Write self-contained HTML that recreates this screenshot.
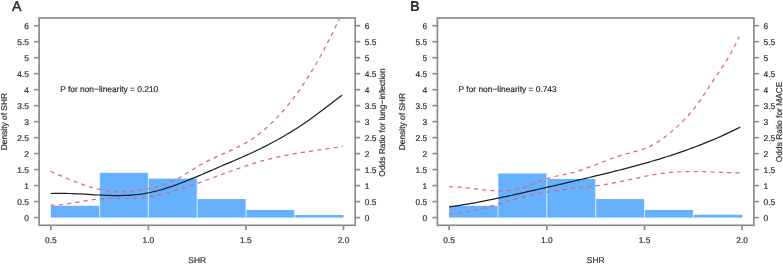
<!DOCTYPE html>
<html><head><meta charset="utf-8"><style>
html,body{margin:0;padding:0;background:#fff;}
body{width:783px;height:265px;overflow:hidden;font-family:"Liberation Sans", sans-serif;}
svg{display:block;will-change:transform;}
svg text{font-family:"Liberation Sans", sans-serif;text-rendering:geometricPrecision;}
</style></head><body>
<svg width="783" height="265" viewBox="0 0 783 265">
<rect width="783" height="265" fill="#fff"/>
<g><rect x="50.81" y="205.79" width="48.78" height="11.84" fill="#65b1fd"/><rect x="99.59" y="172.84" width="48.78" height="44.79" fill="#65b1fd"/><rect x="148.37" y="178.59" width="48.78" height="39.03" fill="#65b1fd"/><rect x="197.15" y="199.07" width="48.78" height="18.55" fill="#65b1fd"/><rect x="245.93" y="209.94" width="48.78" height="7.68" fill="#65b1fd"/><rect x="294.71" y="215.06" width="48.78" height="2.56" fill="#65b1fd"/><line x1="99.59" y1="217.62" x2="99.59" y2="172.84" stroke="#eef6ff" stroke-width="0.8"/><line x1="148.37" y1="217.62" x2="148.37" y2="172.84" stroke="#eef6ff" stroke-width="0.8"/><line x1="197.15" y1="217.62" x2="197.15" y2="178.59" stroke="#eef6ff" stroke-width="0.8"/><line x1="245.93" y1="217.62" x2="245.93" y2="199.07" stroke="#eef6ff" stroke-width="0.8"/><line x1="294.71" y1="217.62" x2="294.71" y2="209.94" stroke="#eef6ff" stroke-width="0.8"/><clipPath id="clipA"><rect x="39.10" y="18.00" width="316.10" height="207.30"/></clipPath><path d="M50.60,171.29 L54.28,172.91 L57.96,174.52 L61.65,176.11 L65.33,177.68 L69.01,179.22 L72.69,180.71 L76.38,182.15 L80.06,183.52 L83.74,184.83 L87.42,186.05 L91.11,187.18 L94.79,188.21 L98.47,189.13 L102.15,189.93 L105.83,190.61 L109.52,191.14 L113.20,191.53 L116.88,191.76 L120.56,191.82 L124.25,191.72 L127.93,191.47 L131.61,191.12 L135.29,190.68 L138.97,190.20 L142.66,189.68 L146.34,189.13 L150.02,188.51 L153.70,187.79 L157.39,186.94 L161.07,185.93 L164.75,184.73 L168.43,183.31 L172.12,181.65 L175.80,179.76 L179.48,177.68 L183.16,175.47 L186.84,173.18 L190.53,170.85 L194.21,168.54 L197.89,166.31 L201.57,164.19 L205.26,162.22 L208.94,160.37 L212.62,158.62 L216.30,156.94 L219.98,155.31 L223.67,153.69 L227.35,152.07 L231.03,150.41 L234.71,148.69 L238.40,146.88 L242.08,144.96 L245.76,142.89 L249.44,140.66 L253.13,138.24 L256.81,135.61 L260.49,132.79 L264.17,129.76 L267.85,126.52 L271.54,123.08 L275.22,119.43 L278.90,115.57 L282.58,111.49 L286.27,107.20 L289.95,102.68 L293.63,97.94 L297.31,92.97 L300.99,87.76 L304.68,82.32 L308.36,76.63 L312.04,70.70 L315.72,64.51 L319.41,58.07 L323.09,51.37 L326.77,44.40 L330.45,37.17 L334.14,29.66 L337.82,21.88 L341.50,13.81" fill="none" stroke="#de6284" stroke-width="1.25" stroke-dasharray="4.15 4.15" clip-path="url(#clipA)"/><path d="M50.60,205.13 L54.30,205.06 L58.00,204.84 L61.70,204.51 L65.41,204.07 L69.11,203.55 L72.81,202.98 L76.51,202.36 L80.21,201.73 L83.91,201.09 L87.61,200.48 L91.31,199.92 L95.02,199.42 L98.72,199.00 L102.42,198.69 L106.12,198.48 L109.82,198.37 L113.52,198.31 L117.22,198.30 L120.92,198.30 L124.63,198.30 L128.33,198.27 L132.03,198.18 L135.73,198.02 L139.43,197.76 L143.13,197.39 L146.83,196.92 L150.53,196.36 L154.24,195.71 L157.94,194.98 L161.64,194.17 L165.34,193.29 L169.04,192.33 L172.74,191.32 L176.44,190.24 L180.14,189.12 L183.85,187.95 L187.55,186.73 L191.25,185.48 L194.95,184.20 L198.65,182.89 L202.35,181.56 L206.05,180.22 L209.75,178.87 L213.46,177.50 L217.16,176.14 L220.86,174.78 L224.56,173.43 L228.26,172.08 L231.96,170.75 L235.66,169.44 L239.36,168.15 L243.07,166.88 L246.77,165.65 L250.47,164.45 L254.17,163.29 L257.87,162.17 L261.57,161.10 L265.27,160.07 L268.97,159.11 L272.68,158.19 L276.38,157.33 L280.08,156.52 L283.78,155.75 L287.48,155.03 L291.18,154.34 L294.88,153.68 L298.58,153.05 L302.29,152.45 L305.99,151.87 L309.69,151.31 L313.39,150.76 L317.09,150.22 L320.79,149.69 L324.49,149.17 L328.19,148.64 L331.90,148.11 L335.60,147.56 L339.30,147.01 L343.00,146.44" fill="none" stroke="#de6284" stroke-width="1.25" stroke-dasharray="4.15 4.15" clip-path="url(#clipA)"/><path d="M50.60,193.50 L54.29,193.38 L57.98,193.33 L61.67,193.34 L65.35,193.40 L69.04,193.50 L72.73,193.63 L76.42,193.80 L80.11,193.98 L83.80,194.18 L87.49,194.39 L91.17,194.60 L94.86,194.81 L98.55,195.00 L102.24,195.18 L105.93,195.32 L109.62,195.44 L113.31,195.51 L116.99,195.54 L120.68,195.51 L124.37,195.42 L128.06,195.26 L131.75,195.03 L135.44,194.72 L139.13,194.31 L142.82,193.81 L146.50,193.21 L150.19,192.50 L153.88,191.68 L157.57,190.76 L161.26,189.75 L164.95,188.65 L168.64,187.47 L172.32,186.22 L176.01,184.90 L179.70,183.53 L183.39,182.11 L187.08,180.64 L190.77,179.14 L194.46,177.61 L198.14,176.06 L201.83,174.49 L205.52,172.90 L209.21,171.31 L212.90,169.71 L216.59,168.11 L220.28,166.52 L223.96,164.93 L227.65,163.36 L231.34,161.80 L235.03,160.23 L238.72,158.65 L242.41,157.05 L246.10,155.42 L249.78,153.76 L253.47,152.05 L257.16,150.28 L260.85,148.47 L264.54,146.61 L268.23,144.71 L271.92,142.78 L275.61,140.81 L279.29,138.79 L282.98,136.71 L286.67,134.58 L290.36,132.37 L294.05,130.09 L297.74,127.72 L301.43,125.28 L305.11,122.76 L308.80,120.17 L312.49,117.53 L316.18,114.84 L319.87,112.10 L323.56,109.33 L327.25,106.52 L330.93,103.70 L334.62,100.86 L338.31,98.01 L342.00,95.16" fill="none" stroke="#202020" stroke-width="1.25" clip-path="url(#clipA)"/><rect x="39.10" y="18.00" width="316.10" height="207.30" fill="none" stroke="#8c8c8c" stroke-width="1.7"/><line x1="34.10" y1="217.62" x2="39.10" y2="217.62" stroke="#8c8c8c" stroke-width="1.7"/><line x1="355.20" y1="217.62" x2="360.20" y2="217.62" stroke="#8c8c8c" stroke-width="1.7"/><line x1="34.10" y1="201.63" x2="39.10" y2="201.63" stroke="#8c8c8c" stroke-width="1.7"/><line x1="355.20" y1="201.63" x2="360.20" y2="201.63" stroke="#8c8c8c" stroke-width="1.7"/><line x1="34.10" y1="185.63" x2="39.10" y2="185.63" stroke="#8c8c8c" stroke-width="1.7"/><line x1="355.20" y1="185.63" x2="360.20" y2="185.63" stroke="#8c8c8c" stroke-width="1.7"/><line x1="34.10" y1="169.64" x2="39.10" y2="169.64" stroke="#8c8c8c" stroke-width="1.7"/><line x1="355.20" y1="169.64" x2="360.20" y2="169.64" stroke="#8c8c8c" stroke-width="1.7"/><line x1="34.10" y1="153.64" x2="39.10" y2="153.64" stroke="#8c8c8c" stroke-width="1.7"/><line x1="355.20" y1="153.64" x2="360.20" y2="153.64" stroke="#8c8c8c" stroke-width="1.7"/><line x1="34.10" y1="137.65" x2="39.10" y2="137.65" stroke="#8c8c8c" stroke-width="1.7"/><line x1="355.20" y1="137.65" x2="360.20" y2="137.65" stroke="#8c8c8c" stroke-width="1.7"/><line x1="34.10" y1="121.65" x2="39.10" y2="121.65" stroke="#8c8c8c" stroke-width="1.7"/><line x1="355.20" y1="121.65" x2="360.20" y2="121.65" stroke="#8c8c8c" stroke-width="1.7"/><line x1="34.10" y1="105.65" x2="39.10" y2="105.65" stroke="#8c8c8c" stroke-width="1.7"/><line x1="355.20" y1="105.65" x2="360.20" y2="105.65" stroke="#8c8c8c" stroke-width="1.7"/><line x1="34.10" y1="89.66" x2="39.10" y2="89.66" stroke="#8c8c8c" stroke-width="1.7"/><line x1="355.20" y1="89.66" x2="360.20" y2="89.66" stroke="#8c8c8c" stroke-width="1.7"/><line x1="34.10" y1="73.66" x2="39.10" y2="73.66" stroke="#8c8c8c" stroke-width="1.7"/><line x1="355.20" y1="73.66" x2="360.20" y2="73.66" stroke="#8c8c8c" stroke-width="1.7"/><line x1="34.10" y1="57.67" x2="39.10" y2="57.67" stroke="#8c8c8c" stroke-width="1.7"/><line x1="355.20" y1="57.67" x2="360.20" y2="57.67" stroke="#8c8c8c" stroke-width="1.7"/><line x1="34.10" y1="41.67" x2="39.10" y2="41.67" stroke="#8c8c8c" stroke-width="1.7"/><line x1="355.20" y1="41.67" x2="360.20" y2="41.67" stroke="#8c8c8c" stroke-width="1.7"/><line x1="34.10" y1="25.68" x2="39.10" y2="25.68" stroke="#8c8c8c" stroke-width="1.7"/><line x1="355.20" y1="25.68" x2="360.20" y2="25.68" stroke="#8c8c8c" stroke-width="1.7"/><line x1="50.81" y1="225.30" x2="50.81" y2="230.30" stroke="#8c8c8c" stroke-width="1.7"/><line x1="148.37" y1="225.30" x2="148.37" y2="230.30" stroke="#8c8c8c" stroke-width="1.7"/><line x1="245.93" y1="225.30" x2="245.93" y2="230.30" stroke="#8c8c8c" stroke-width="1.7"/><line x1="343.49" y1="225.30" x2="343.49" y2="230.30" stroke="#8c8c8c" stroke-width="1.7"/></g>
<g font-family="Liberation Sans, sans-serif" font-size="8.40" fill="#2e2e2e" stroke="#2e2e2e" stroke-width="0.2"><text x="28.90" y="220.52" text-anchor="end">0</text><text x="364.80" y="220.52">0</text><text x="28.90" y="204.53" text-anchor="end">0.5</text><text x="364.80" y="204.53">0.5</text><text x="28.90" y="188.53" text-anchor="end">1</text><text x="364.80" y="188.53">1</text><text x="28.90" y="172.54" text-anchor="end">1.5</text><text x="364.80" y="172.54">1.5</text><text x="28.90" y="156.54" text-anchor="end">2</text><text x="364.80" y="156.54">2</text><text x="28.90" y="140.55" text-anchor="end">2.5</text><text x="364.80" y="140.55">2.5</text><text x="28.90" y="124.55" text-anchor="end">3</text><text x="364.80" y="124.55">3</text><text x="28.90" y="108.55" text-anchor="end">3.5</text><text x="364.80" y="108.55">3.5</text><text x="28.90" y="92.56" text-anchor="end">4</text><text x="364.80" y="92.56">4</text><text x="28.90" y="76.56" text-anchor="end">4.5</text><text x="364.80" y="76.56">4.5</text><text x="28.90" y="60.57" text-anchor="end">5</text><text x="364.80" y="60.57">5</text><text x="28.90" y="44.57" text-anchor="end">5.5</text><text x="364.80" y="44.57">5.5</text><text x="28.90" y="28.58" text-anchor="end">6</text><text x="364.80" y="28.58">6</text><text x="50.81" y="243.40" text-anchor="middle">0.5</text><text x="148.37" y="243.40" text-anchor="middle">1.0</text><text x="245.93" y="243.40" text-anchor="middle">1.5</text><text x="343.49" y="243.40" text-anchor="middle">2.0</text><text x="197.15" y="262.80" text-anchor="middle">SHR</text><text x="6.90" y="121.65" text-anchor="middle" transform="rotate(-90 6.90 121.65)">Density of SHR</text><text x="384.60" y="122.50" text-anchor="middle" transform="rotate(-90 384.60 122.50)">Odds Ratio for lung−infection</text><text x="60.20" y="91.70">P for non−linearity = 0.210</text><text x="11.90" y="10.55" font-size="14.2" stroke-width="0.45">A</text></g>
<g><rect x="449.12" y="205.79" width="48.84" height="11.84" fill="#65b1fd"/><rect x="497.96" y="173.48" width="48.84" height="44.15" fill="#65b1fd"/><rect x="546.81" y="178.91" width="48.84" height="38.71" fill="#65b1fd"/><rect x="595.65" y="199.07" width="48.84" height="18.55" fill="#65b1fd"/><rect x="644.49" y="209.94" width="48.84" height="7.68" fill="#65b1fd"/><rect x="693.34" y="214.74" width="48.84" height="2.88" fill="#65b1fd"/><line x1="497.96" y1="217.62" x2="497.96" y2="173.48" stroke="#eef6ff" stroke-width="0.8"/><line x1="546.81" y1="217.62" x2="546.81" y2="173.48" stroke="#eef6ff" stroke-width="0.8"/><line x1="595.65" y1="217.62" x2="595.65" y2="178.91" stroke="#eef6ff" stroke-width="0.8"/><line x1="644.49" y1="217.62" x2="644.49" y2="199.07" stroke="#eef6ff" stroke-width="0.8"/><line x1="693.34" y1="217.62" x2="693.34" y2="209.94" stroke="#eef6ff" stroke-width="0.8"/><clipPath id="clipB"><rect x="437.40" y="18.00" width="316.50" height="207.30"/></clipPath><path d="M449.10,186.71 L452.77,186.78 L456.44,186.96 L460.12,187.23 L463.79,187.57 L467.46,187.97 L471.13,188.40 L474.81,188.85 L478.48,189.30 L482.15,189.73 L485.82,190.12 L489.49,190.45 L493.17,190.71 L496.84,190.88 L500.51,190.93 L504.18,190.85 L507.85,190.63 L511.53,190.23 L515.20,189.65 L518.87,188.87 L522.54,187.87 L526.22,186.65 L529.89,185.27 L533.56,183.80 L537.23,182.29 L540.90,180.81 L544.58,179.41 L548.25,178.16 L551.92,177.11 L555.59,176.25 L559.26,175.52 L562.94,174.82 L566.61,174.10 L570.28,173.27 L573.95,172.31 L577.63,171.23 L581.30,170.05 L584.97,168.79 L588.64,167.46 L592.31,166.07 L595.99,164.66 L599.66,163.22 L603.33,161.78 L607.00,160.36 L610.67,158.97 L614.35,157.62 L618.02,156.34 L621.69,155.14 L625.36,154.04 L629.04,153.04 L632.71,152.09 L636.38,151.14 L640.05,150.10 L643.72,148.92 L647.40,147.53 L651.07,145.86 L654.74,143.88 L658.41,141.61 L662.08,139.07 L665.76,136.31 L669.43,133.34 L673.10,130.19 L676.77,126.90 L680.45,123.48 L684.12,119.89 L687.79,116.05 L691.46,111.91 L695.13,107.41 L698.81,102.46 L702.48,97.08 L706.15,91.43 L709.82,85.71 L713.49,80.12 L717.17,74.69 L720.84,69.28 L724.51,63.73 L728.18,57.85 L731.86,51.49 L735.53,44.49 L739.20,36.67" fill="none" stroke="#de6284" stroke-width="1.25" stroke-dasharray="4.15 4.15" clip-path="url(#clipB)"/><path d="M449.10,213.97 L452.79,213.71 L456.47,213.34 L460.16,212.87 L463.85,212.31 L467.54,211.65 L471.22,210.92 L474.91,210.12 L478.60,209.26 L482.29,208.35 L485.97,207.40 L489.66,206.40 L493.35,205.39 L497.04,204.35 L500.72,203.30 L504.41,202.25 L508.10,201.21 L511.78,200.18 L515.47,199.17 L519.16,198.20 L522.85,197.26 L526.53,196.37 L530.22,195.53 L533.91,194.72 L537.60,193.96 L541.28,193.23 L544.97,192.54 L548.66,191.89 L552.35,191.27 L556.03,190.69 L559.72,190.13 L563.41,189.61 L567.09,189.11 L570.78,188.64 L574.47,188.20 L578.16,187.78 L581.84,187.38 L585.53,186.98 L589.22,186.57 L592.91,186.15 L596.59,185.70 L600.28,185.21 L603.97,184.66 L607.66,184.05 L611.34,183.39 L615.03,182.69 L618.72,181.95 L622.41,181.19 L626.09,180.40 L629.78,179.61 L633.47,178.81 L637.15,178.02 L640.84,177.24 L644.53,176.48 L648.22,175.75 L651.90,175.06 L655.59,174.42 L659.28,173.83 L662.97,173.30 L666.65,172.84 L670.34,172.46 L674.03,172.16 L677.72,171.92 L681.40,171.75 L685.09,171.63 L688.78,171.57 L692.46,171.55 L696.15,171.57 L699.84,171.63 L703.53,171.72 L707.21,171.83 L710.90,171.95 L714.59,172.09 L718.28,172.23 L721.96,172.38 L725.65,172.52 L729.34,172.64 L733.03,172.75 L736.71,172.84 L740.40,172.90" fill="none" stroke="#de6284" stroke-width="1.25" stroke-dasharray="4.15 4.15" clip-path="url(#clipB)"/><path d="M449.10,206.87 L452.79,206.38 L456.47,205.85 L460.16,205.30 L463.85,204.71 L467.54,204.10 L471.22,203.47 L474.91,202.81 L478.60,202.12 L482.29,201.42 L485.97,200.70 L489.66,199.96 L493.35,199.21 L497.04,198.44 L500.72,197.66 L504.41,196.87 L508.10,196.07 L511.78,195.26 L515.47,194.45 L519.16,193.63 L522.85,192.80 L526.53,191.98 L530.22,191.15 L533.91,190.32 L537.60,189.49 L541.28,188.65 L544.97,187.81 L548.66,186.97 L552.35,186.13 L556.03,185.28 L559.72,184.43 L563.41,183.57 L567.09,182.72 L570.78,181.86 L574.47,180.99 L578.16,180.13 L581.84,179.25 L585.53,178.38 L589.22,177.50 L592.91,176.61 L596.59,175.73 L600.28,174.83 L603.97,173.93 L607.66,173.03 L611.34,172.12 L615.03,171.19 L618.72,170.26 L622.41,169.32 L626.09,168.36 L629.78,167.39 L633.47,166.41 L637.15,165.41 L640.84,164.40 L644.53,163.37 L648.22,162.32 L651.90,161.25 L655.59,160.16 L659.28,159.04 L662.97,157.91 L666.65,156.75 L670.34,155.57 L674.03,154.36 L677.72,153.13 L681.40,151.86 L685.09,150.57 L688.78,149.25 L692.46,147.90 L696.15,146.51 L699.84,145.09 L703.53,143.64 L707.21,142.15 L710.90,140.63 L714.59,139.07 L718.28,137.47 L721.96,135.83 L725.65,134.15 L729.34,132.43 L733.03,130.67 L736.71,128.86 L740.40,127.01" fill="none" stroke="#202020" stroke-width="1.25" clip-path="url(#clipB)"/><rect x="437.40" y="18.00" width="316.50" height="207.30" fill="none" stroke="#8c8c8c" stroke-width="1.7"/><line x1="432.40" y1="217.62" x2="437.40" y2="217.62" stroke="#8c8c8c" stroke-width="1.7"/><line x1="753.90" y1="217.62" x2="758.90" y2="217.62" stroke="#8c8c8c" stroke-width="1.7"/><line x1="432.40" y1="201.63" x2="437.40" y2="201.63" stroke="#8c8c8c" stroke-width="1.7"/><line x1="753.90" y1="201.63" x2="758.90" y2="201.63" stroke="#8c8c8c" stroke-width="1.7"/><line x1="432.40" y1="185.63" x2="437.40" y2="185.63" stroke="#8c8c8c" stroke-width="1.7"/><line x1="753.90" y1="185.63" x2="758.90" y2="185.63" stroke="#8c8c8c" stroke-width="1.7"/><line x1="432.40" y1="169.64" x2="437.40" y2="169.64" stroke="#8c8c8c" stroke-width="1.7"/><line x1="753.90" y1="169.64" x2="758.90" y2="169.64" stroke="#8c8c8c" stroke-width="1.7"/><line x1="432.40" y1="153.64" x2="437.40" y2="153.64" stroke="#8c8c8c" stroke-width="1.7"/><line x1="753.90" y1="153.64" x2="758.90" y2="153.64" stroke="#8c8c8c" stroke-width="1.7"/><line x1="432.40" y1="137.65" x2="437.40" y2="137.65" stroke="#8c8c8c" stroke-width="1.7"/><line x1="753.90" y1="137.65" x2="758.90" y2="137.65" stroke="#8c8c8c" stroke-width="1.7"/><line x1="432.40" y1="121.65" x2="437.40" y2="121.65" stroke="#8c8c8c" stroke-width="1.7"/><line x1="753.90" y1="121.65" x2="758.90" y2="121.65" stroke="#8c8c8c" stroke-width="1.7"/><line x1="432.40" y1="105.65" x2="437.40" y2="105.65" stroke="#8c8c8c" stroke-width="1.7"/><line x1="753.90" y1="105.65" x2="758.90" y2="105.65" stroke="#8c8c8c" stroke-width="1.7"/><line x1="432.40" y1="89.66" x2="437.40" y2="89.66" stroke="#8c8c8c" stroke-width="1.7"/><line x1="753.90" y1="89.66" x2="758.90" y2="89.66" stroke="#8c8c8c" stroke-width="1.7"/><line x1="432.40" y1="73.66" x2="437.40" y2="73.66" stroke="#8c8c8c" stroke-width="1.7"/><line x1="753.90" y1="73.66" x2="758.90" y2="73.66" stroke="#8c8c8c" stroke-width="1.7"/><line x1="432.40" y1="57.67" x2="437.40" y2="57.67" stroke="#8c8c8c" stroke-width="1.7"/><line x1="753.90" y1="57.67" x2="758.90" y2="57.67" stroke="#8c8c8c" stroke-width="1.7"/><line x1="432.40" y1="41.67" x2="437.40" y2="41.67" stroke="#8c8c8c" stroke-width="1.7"/><line x1="753.90" y1="41.67" x2="758.90" y2="41.67" stroke="#8c8c8c" stroke-width="1.7"/><line x1="432.40" y1="25.68" x2="437.40" y2="25.68" stroke="#8c8c8c" stroke-width="1.7"/><line x1="753.90" y1="25.68" x2="758.90" y2="25.68" stroke="#8c8c8c" stroke-width="1.7"/><line x1="449.12" y1="225.30" x2="449.12" y2="230.30" stroke="#8c8c8c" stroke-width="1.7"/><line x1="546.81" y1="225.30" x2="546.81" y2="230.30" stroke="#8c8c8c" stroke-width="1.7"/><line x1="644.49" y1="225.30" x2="644.49" y2="230.30" stroke="#8c8c8c" stroke-width="1.7"/><line x1="742.18" y1="225.30" x2="742.18" y2="230.30" stroke="#8c8c8c" stroke-width="1.7"/></g>
<g font-family="Liberation Sans, sans-serif" font-size="8.40" fill="#2e2e2e" stroke="#2e2e2e" stroke-width="0.2"><text x="427.20" y="220.52" text-anchor="end">0</text><text x="763.50" y="220.52">0</text><text x="427.20" y="204.53" text-anchor="end">0.5</text><text x="763.50" y="204.53">0.5</text><text x="427.20" y="188.53" text-anchor="end">1</text><text x="763.50" y="188.53">1</text><text x="427.20" y="172.54" text-anchor="end">1.5</text><text x="763.50" y="172.54">1.5</text><text x="427.20" y="156.54" text-anchor="end">2</text><text x="763.50" y="156.54">2</text><text x="427.20" y="140.55" text-anchor="end">2.5</text><text x="763.50" y="140.55">2.5</text><text x="427.20" y="124.55" text-anchor="end">3</text><text x="763.50" y="124.55">3</text><text x="427.20" y="108.55" text-anchor="end">3.5</text><text x="763.50" y="108.55">3.5</text><text x="427.20" y="92.56" text-anchor="end">4</text><text x="763.50" y="92.56">4</text><text x="427.20" y="76.56" text-anchor="end">4.5</text><text x="763.50" y="76.56">4.5</text><text x="427.20" y="60.57" text-anchor="end">5</text><text x="763.50" y="60.57">5</text><text x="427.20" y="44.57" text-anchor="end">5.5</text><text x="763.50" y="44.57">5.5</text><text x="427.20" y="28.58" text-anchor="end">6</text><text x="763.50" y="28.58">6</text><text x="449.12" y="243.40" text-anchor="middle">0.5</text><text x="546.81" y="243.40" text-anchor="middle">1.0</text><text x="644.49" y="243.40" text-anchor="middle">1.5</text><text x="742.18" y="243.40" text-anchor="middle">2.0</text><text x="595.65" y="262.80" text-anchor="middle">SHR</text><text x="405.30" y="121.65" text-anchor="middle" transform="rotate(-90 405.30 121.65)">Density of SHR</text><text x="782.00" y="121.90" text-anchor="middle" transform="rotate(-90 782.00 121.90)">Odds Ratio for MACE</text><text x="458.60" y="91.70">P for non−linearity = 0.743</text><text x="0" y="0" font-size="14.4" font-weight="bold" stroke-width="0.1" transform="translate(410.30 10.55) scale(0.9 1)">B</text></g>
</svg>
</body></html>
